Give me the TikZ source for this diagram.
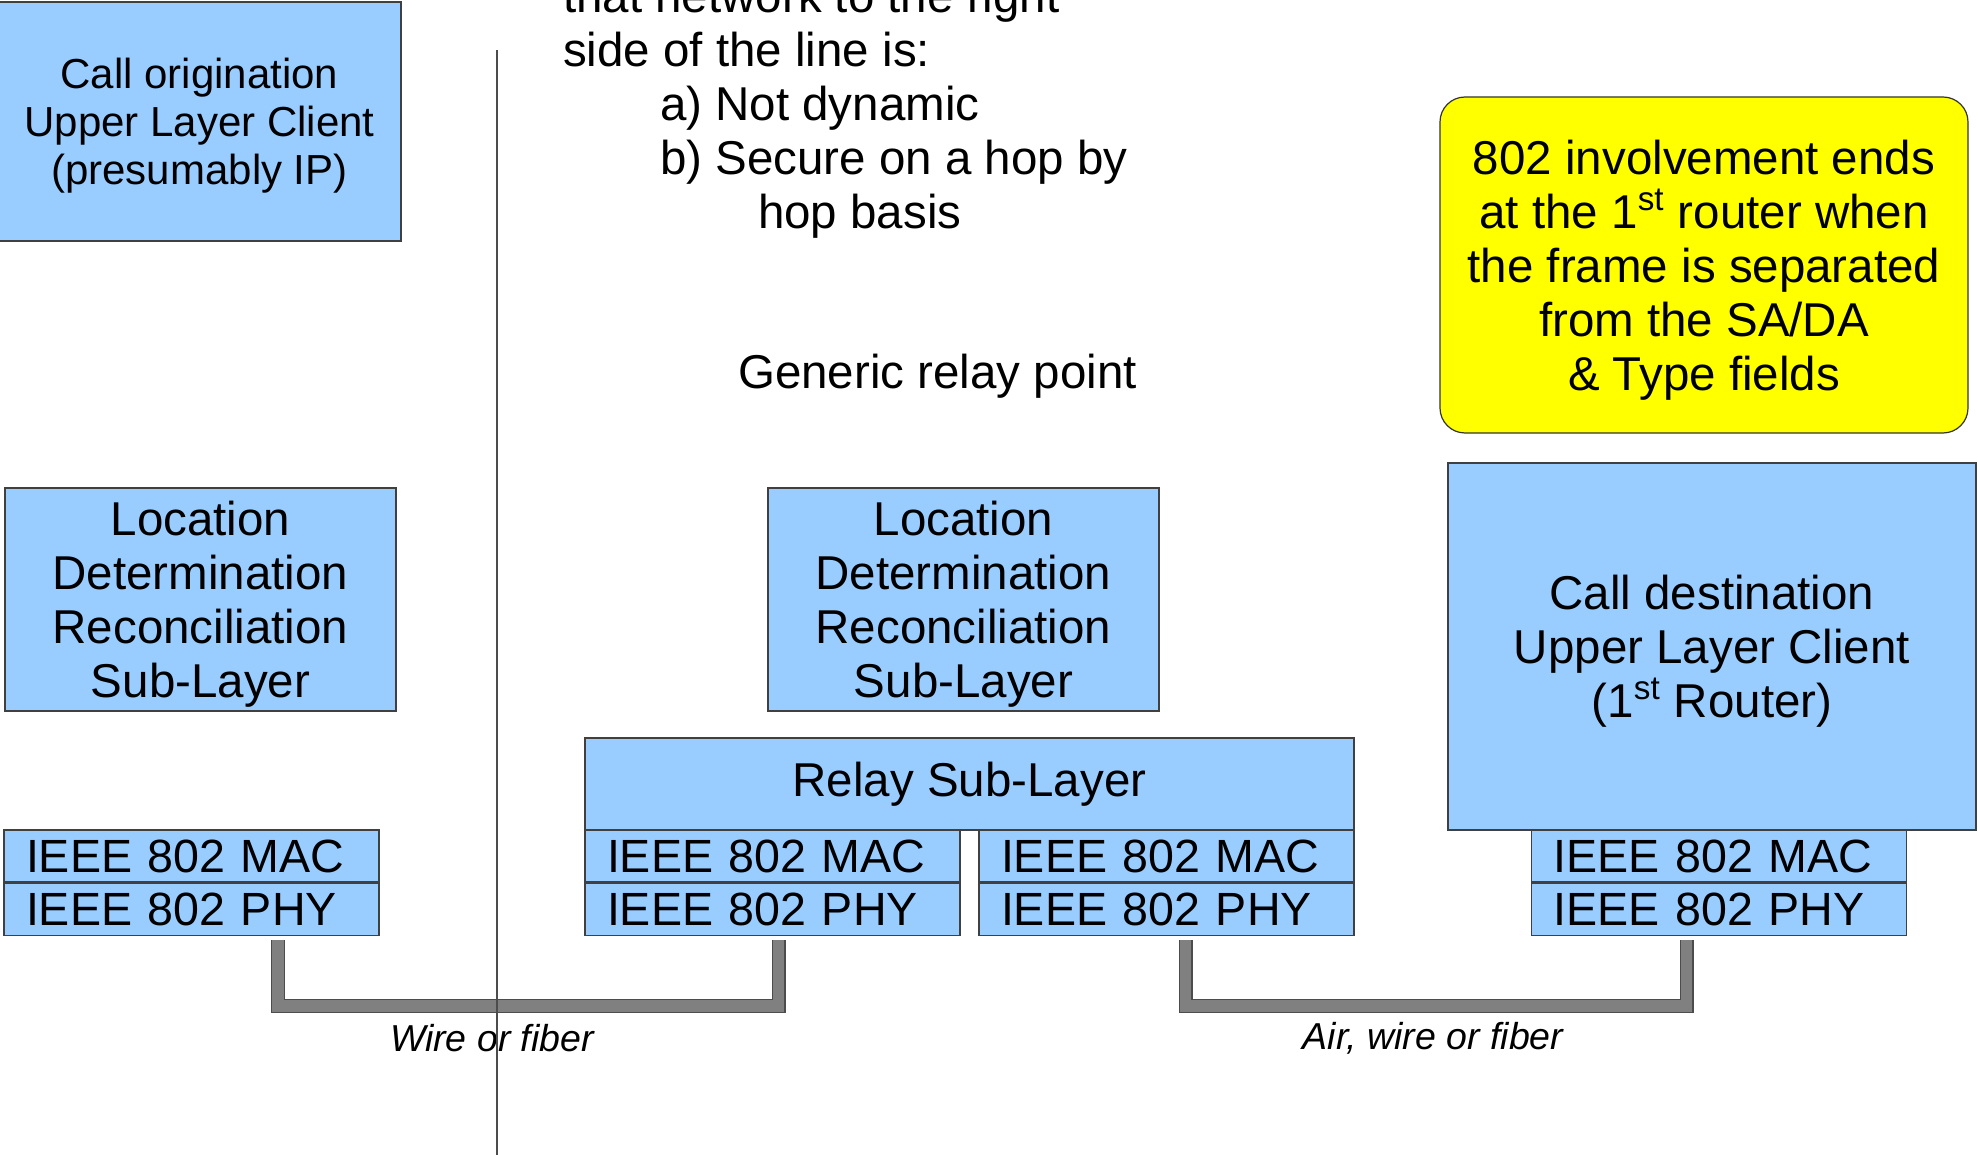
\documentclass[tikz,border=0pt]{standalone}
\usepackage{fontspec}
\setmainfont{Liberation Sans}
\usetikzlibrary{positioning}
\definecolor{layerblue}{HTML}{99CCFF}
\definecolor{noteyellow}{HTML}{FFFF00}
\newcommand{\bigtxt}{\fontsize{23.75}{27}\selectfont}
\newcommand{\ieeetxt}{\fontsize{23.3}{27}\selectfont}
\newcommand{\origtxt}{\fontsize{21}{24}\selectfont}
\newcommand{\linktxt}{\fontsize{18.75}{22}\selectfont\itshape}

\begin{document}
\begin{tikzpicture}[x=0.5pt, y=-0.5pt,
    layer/.style={draw=black!75, fill=layerblue, line width=0.6pt, align=center, inner sep=0pt, text depth=0pt, font=\bigtxt},
    ieee/.style={layer, align=left, text width=165.5pt, inner xsep=11pt, minimum height=26pt, font=\ieeetxt},
    link/.style={draw=black!70, line width=0.6pt, double=black!50, double distance=5.8pt},
    divider/.style={black!70, line width=0.75pt},
    linklabel/.style={font=\linktxt},
    remark/.style={font=\bigtxt},
]
\useasboundingbox (0,0) rectangle (1978,1155);

% Originating station
\node[layer, font=\origtxt, minimum width=201.5pt, minimum height=119.5pt] (orig) at (199.5,121.5)
    {Call origination\\Upper Layer Client\\(presumably IP)};
\node[layer, minimum width=195.5pt, minimum height=111.5pt] (locL) at (200.5,599.5)
    {Location\\Determination\\Reconciliation\\Sub-Layer};
\node[ieee] (macL) at (191.5,856) {IEEE 802 MAC};
\node[ieee, below=0pt of macL] (phyL) {IEEE 802 PHY};

% Relay point
\node[remark, anchor=base west, align=left] (remark) at (556,229)
    {that network to the right\\side of the line is:\\
     \hspace*{48.5pt}a) Not dynamic\\\hspace*{48.5pt}b) Secure on a hop by\\
     \hspace*{97.5pt}hop basis};
\node[remark] (gen) at (937.5,376) {Generic relay point};
\node[layer, minimum width=195.5pt, minimum height=111.5pt] (locM) at (963.5,599.5)
    {Location\\Determination\\Reconciliation\\Sub-Layer};
\node[layer, text depth=, minimum width=384.5pt, minimum height=46pt] (relay) at (969.5,784) {Relay Sub-Layer};
\node[ieee] (macA) at (772.5,856) {IEEE 802 MAC};
\node[ieee, below=0pt of macA] (phyA) {IEEE 802 PHY};
\node[ieee] (macB) at (1166.5,856) {IEEE 802 MAC};
\node[ieee, below=0pt of macB] (phyB) {IEEE 802 PHY};

% Destination (1st router)
\node[layer, fill=noteyellow, draw=black!80, rounded corners=12.5pt, minimum width=264pt, minimum height=168pt] (note) at (1704,265)
    {802 involvement ends\\at the 1\textsuperscript{st} router when\\the frame is separated\\from the SA/DA\\\& Type fields};
\node[layer, minimum width=264pt, minimum height=183.5pt] (dest) at (1712,646.5)
    {Call destination\\Upper Layer Client\\(1\textsuperscript{st} Router)};
\node[ieee] (macR) at (1719,856) {IEEE 802 MAC};
\node[ieee, below=0pt of macR] (phyR) {IEEE 802 PHY};

% Media between the PHYs
\draw[link] ([xshift=43.25pt, yshift=-2pt]phyL.south) -- ++(0,66) -| ([xshift=3pt, yshift=-2pt]phyA.south);
\draw[link] ([xshift=9.5pt, yshift=-2pt]phyB.south) -- ++(0,66) -| ([xshift=-16.25pt, yshift=-2pt]phyR.south);
\node[linklabel] (wire) at (492,1038) {Wire or fiber};
\node[linklabel] (air) at (1433,1038) {Air, wire or fiber};

% Dividing line
\draw[divider] (497,50) -- (497,1155);

\end{tikzpicture}
\end{document}
